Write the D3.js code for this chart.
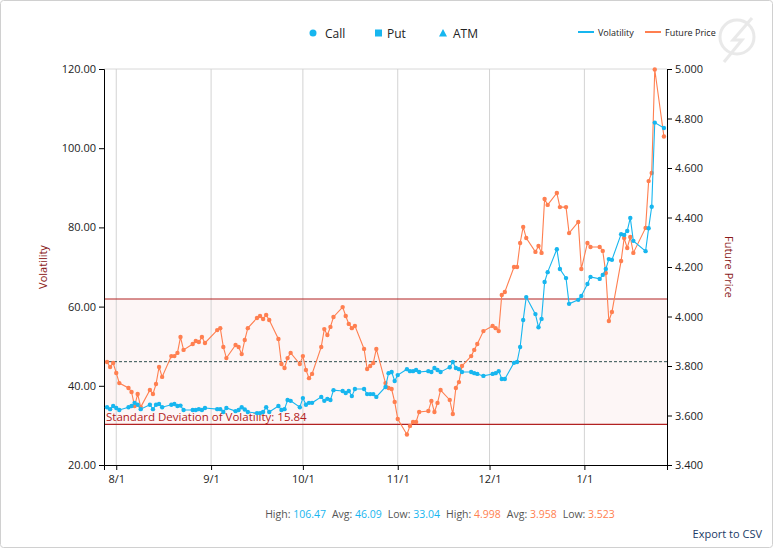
<!DOCTYPE html>
<html><head><meta charset="utf-8">
<script src="https://cdn.jsdelivr.net/npm/d3@7"></script>
<style>body{margin:0;background:#fff;font-family:"Open Sans",Arial,sans-serif}</style>
</head><body><svg id="c" width="773" height="548"></svg>
<script>
const dates = ["2019-07-29","2019-07-30","2019-07-31","2019-08-01","2019-08-02","2019-08-05","2019-08-06","2019-08-07","2019-08-08","2019-08-09","2019-08-12","2019-08-13","2019-08-14","2019-08-15","2019-08-16","2019-08-19","2019-08-20","2019-08-21","2019-08-22","2019-08-23","2019-08-26","2019-08-27","2019-08-28","2019-08-29","2019-08-30",
"2019-09-03","2019-09-04","2019-09-05","2019-09-06","2019-09-09","2019-09-10","2019-09-11","2019-09-12","2019-09-13","2019-09-16","2019-09-17","2019-09-18","2019-09-19","2019-09-20","2019-09-23","2019-09-24","2019-09-25","2019-09-26","2019-09-27","2019-09-30",
"2019-10-01","2019-10-02","2019-10-03","2019-10-04","2019-10-07","2019-10-08","2019-10-09","2019-10-10","2019-10-11","2019-10-14","2019-10-15","2019-10-16","2019-10-17","2019-10-18","2019-10-21","2019-10-22","2019-10-23","2019-10-24","2019-10-25","2019-10-28","2019-10-29","2019-10-30","2019-10-31",
"2019-11-01","2019-11-04","2019-11-05","2019-11-06","2019-11-07","2019-11-08","2019-11-11","2019-11-12","2019-11-13","2019-11-14","2019-11-15","2019-11-18","2019-11-19","2019-11-20","2019-11-21","2019-11-22","2019-11-25","2019-11-26","2019-11-27","2019-11-29",
"2019-12-02","2019-12-03","2019-12-04","2019-12-05","2019-12-06","2019-12-09","2019-12-10","2019-12-11","2019-12-12","2019-12-13","2019-12-16","2019-12-17","2019-12-18","2019-12-19","2019-12-20","2019-12-23","2019-12-24","2019-12-26","2019-12-27","2019-12-30","2019-12-31",
"2020-01-02","2020-01-03","2020-01-06","2020-01-07","2020-01-08","2020-01-09","2020-01-10","2020-01-13","2020-01-14","2020-01-15","2020-01-16","2020-01-17","2020-01-21","2020-01-22","2020-01-23","2020-01-24","2020-01-27"];
const volatility = [34.6,34.1,34.9,34.4,33.9,34.6,34.9,35.7,35.2,34.1,35.2,34.1,35.2,35.4,34.6,35.2,35.4,34.9,35.0,33.9,33.9,33.9,34.1,33.9,34.4,
34.1,34.1,33.4,34.4,33.6,33.9,34.6,34.0,33.4,33.1,33.1,33.4,34.6,33.4,34.9,33.9,34.1,36.4,36.2,34.6,
36.9,35.2,35.7,35.7,37.2,36.2,36.7,36.4,38.9,38.7,38.2,38.7,37.4,39.2,39.2,37.9,37.9,37.9,37.2,39.7,43.2,43.5,41.2,
42.7,44.2,43.7,43.7,44.0,43.5,43.7,43.5,44.5,44.0,43.5,44.7,46.0,44.5,44.2,43.5,43.5,43.2,43.0,42.5,
43.0,43.2,43.7,41.7,41.7,45.8,46.0,49.8,56.6,62.4,58.1,54.8,56.9,66.2,68.7,74.5,69.5,67.2,60.7,61.7,62.7,
65.7,67.5,67.0,68.0,69.5,72.0,71.8,78.3,78.1,79.1,82.4,76.6,74.0,79.8,85.2,106.47,105.1];
const futurePrice = [3.816,3.796,3.812,3.772,3.731,3.711,3.695,3.638,3.687,3.634,3.703,3.687,3.727,3.796,3.756,3.840,3.840,3.853,3.917,3.865,3.889,3.901,3.897,3.917,3.893,
3.945,3.953,3.877,3.832,3.885,3.877,3.848,3.905,3.953,3.994,4.002,3.990,4.006,3.986,3.909,3.808,3.792,3.832,3.853,3.808,
3.840,3.784,3.751,3.768,3.877,3.949,3.925,3.958,3.998,4.038,4.002,3.970,3.953,3.962,3.869,3.788,3.800,3.812,3.869,3.731,3.711,3.707,3.655,
3.586,3.523,3.558,3.574,3.574,3.614,3.618,3.659,3.614,3.651,3.703,3.663,3.606,3.711,3.735,3.800,3.840,3.865,3.889,3.941,
3.962,3.953,3.941,4.087,4.099,4.200,4.200,4.297,4.362,4.317,4.261,4.285,4.257,4.475,4.451,4.499,4.442,4.442,4.337,4.382,4.192,
4.297,4.281,4.281,4.265,4.176,3.982,4.018,4.224,4.317,4.277,4.321,4.257,4.358,4.547,4.580,4.998,4.727];
const xTicks = ["2019-08-01","2019-09-01","2019-10-01","2019-11-01","2019-12-01","2020-01-01"];
const xTickLabels = ["8/1","9/1","10/1","11/1","12/1","1/1"];
const volTicks = [20,40,60,80,100,120];
const priceTicks = [3.4,3.6,3.8,4.0,4.2,4.4,4.6,4.8,5.0];
const stats = {volHigh:"106.47",volAvg:"46.09",volLow:"33.04",pHigh:"4.998",pAvg:"3.958",pLow:"3.523"};
const volAvg = 46.09, volStd = 15.84;

const BLUE="#17b6ef", ORANGE="#ff7f50", DARKRED="#8b1a1a", RED="#b22222";
const svg=d3.select("#c");
const L=104,R=667,T=69,B=465;
const parse=d3.timeParse("%Y-%m-%d");
const D=dates.map(parse);
const x=d3.scaleTime().domain([parse("2019-07-28"),parse("2020-01-28")]).range([L,R]);
const yv=d3.scaleLinear().domain([20,120]).range([B,T]);
const yp=d3.scaleLinear().domain([3.4,5.0]).range([B,T]);

svg.append("rect").attr("x",0.5).attr("y",0.5).attr("width",772).attr("height",547).attr("rx",3).attr("fill","#fff").attr("stroke","#d0d0d0");
const wm=svg.append("g").attr("opacity",0.18);
wm.append("circle").attr("cx",737).attr("cy",37).attr("r",17).attr("fill","none").attr("stroke","#888").attr("stroke-width",3);
wm.append("path").attr("d","M752,18 L733,40 L742,40 L724,62").attr("fill","none").attr("stroke","#888").attr("stroke-width",3);

svg.append("line").attr("x1",L).attr("x2",R).attr("y1",T).attr("y2",T).attr("stroke","#d8d8d8");
svg.append("rect").attr("x",L).attr("width",R-L).attr("y",yv(volAvg+volStd)).attr("height",yv(volAvg-volStd)-yv(volAvg+volStd)).attr("fill","#fdf6f6");
xTicks.forEach(t=>svg.append("line").attr("x1",x(parse(t))).attr("x2",x(parse(t))).attr("y1",T).attr("y2",B).attr("stroke","#d3d3d3"));
[volAvg+volStd,volAvg-volStd].forEach(v=>svg.append("line").attr("x1",L).attr("x2",R).attr("y1",yv(v)).attr("y2",yv(v)).attr("stroke",RED).attr("stroke-width",1.1));
svg.append("line").attr("x1",L).attr("x2",R).attr("y1",yv(volAvg)).attr("y2",yv(volAvg)).attr("stroke","#2f4f4f").attr("stroke-dasharray","3,2");
svg.append("text").attr("x",L+2).attr("y",yv(volAvg-volStd)-3).attr("fill",RED).attr("font-size",11.5).text("Standard Deviation of Volatility: "+volStd.toFixed(2));

const gx=svg.append("g").attr("transform",`translate(0,${B})`).call(d3.axisBottom(x).tickValues(xTicks.map(parse)).tickFormat((d,i)=>xTickLabels[i]).tickSizeOuter(0).tickSize(5));
const gl=svg.append("g").attr("transform",`translate(${L},0)`).call(d3.axisLeft(yv).tickValues(volTicks).tickFormat(d3.format(".2f")).tickSizeOuter(0).tickSize(5));
const gr=svg.append("g").attr("transform",`translate(${R},0)`).call(d3.axisRight(yp).tickValues(priceTicks).tickFormat(d3.format(".3f")).tickSizeOuter(0).tickSize(5));
[gx,gl,gr].forEach(g=>{g.selectAll("text").attr("font-size",11).attr("fill","#222").attr("font-family","Open Sans, Arial");g.selectAll("path,line").attr("stroke","#000");});
gx.selectAll("text").attr("dy","0.9em");

svg.append("text").attr("transform","translate(47,267) rotate(-90)").attr("text-anchor","middle").attr("fill",DARKRED).attr("font-size",11).text("Volatility");
svg.append("text").attr("transform","translate(725,267) rotate(90)").attr("text-anchor","middle").attr("fill",DARKRED).attr("font-size",11).text("Future Price");

const lp=d3.line().x((d,i)=>x(D[i])).y(d=>yp(d));
const lv=d3.line().x((d,i)=>x(D[i])).y(d=>yv(d));
svg.append("path").attr("d",lp(futurePrice)).attr("fill","none").attr("stroke",ORANGE).attr("stroke-width",1.1);
svg.selectAll(".po").data(futurePrice).join("circle").attr("cx",(d,i)=>x(D[i])).attr("cy",d=>yp(d)).attr("r",2.2).attr("fill",ORANGE);
svg.append("path").attr("d",lv(volatility)).attr("fill","none").attr("stroke",BLUE).attr("stroke-width",1.1);
svg.selectAll(".vo").data(volatility).join("circle").attr("cx",(d,i)=>x(D[i])).attr("cy",d=>yv(d)).attr("r",2.2).attr("fill",BLUE);

const lg=svg.append("g").attr("font-size",12).attr("fill","#222");
lg.append("circle").attr("cx",313).attr("cy",33).attr("r",3.5).attr("fill",BLUE);
lg.append("text").attr("x",325).attr("y",37.5).text("Call");
lg.append("rect").attr("x",375).attr("y",29.5).attr("width",7).attr("height",7).attr("fill",BLUE);
lg.append("text").attr("x",387).attr("y",37.5).text("Put");
lg.append("path").attr("d","M443,29 L447,36.5 L439,36.5Z").attr("fill",BLUE);
lg.append("text").attr("x",453).attr("y",37.5).text("ATM");
const lg2=svg.append("g").attr("font-size",9).attr("fill","#222");
lg2.append("line").attr("x1",578).attr("x2",594).attr("y1",32).attr("y2",32).attr("stroke",BLUE).attr("stroke-width",2);
lg2.append("text").attr("x",598).attr("y",35.5).text("Volatility");
lg2.append("line").attr("x1",645).attr("x2",661).attr("y1",32).attr("y2",32).attr("stroke",ORANGE).attr("stroke-width",2);
lg2.append("text").attr("x",665).attr("y",35.5).text("Future Price");

const st=svg.append("text").attr("x",440).attr("y",518).attr("text-anchor","middle").attr("font-size",10.5).attr("fill","#555");
[["High: ",stats.volHigh,BLUE],["Avg: ",stats.volAvg,BLUE],["Low: ",stats.volLow,BLUE],["High: ",stats.pHigh,ORANGE],["Avg: ",stats.pAvg,ORANGE],["Low: ",stats.pLow,ORANGE]].forEach((s,i)=>{
  st.append("tspan").attr("dx",i?6:0).text(s[0]);
  st.append("tspan").attr("fill",s[2]).text(s[1]);
});
svg.append("text").attr("x",762).attr("y",538).attr("text-anchor","end").attr("font-size",11).attr("fill","#1a3a66").text("Export to CSV");
</script></body></html>
